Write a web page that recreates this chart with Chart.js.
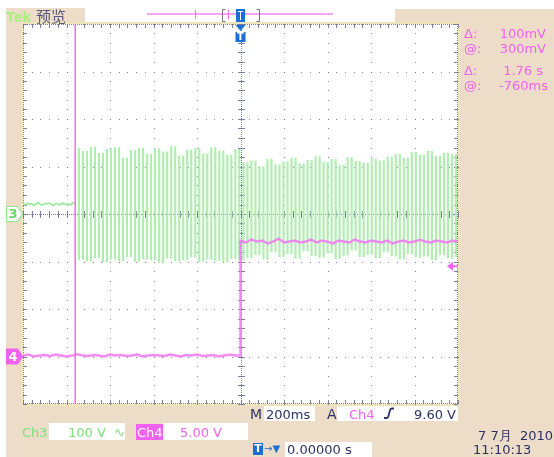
<!DOCTYPE html>
<html>
<head>
<meta charset="utf-8">
<script src="https://cdn.jsdelivr.net/npm/chart.js@4"></script>
<style>
  html, body { margin: 0; padding: 0; background: #fff; }
  body { width: 554px; height: 457px; position: relative; overflow: hidden;
         font-family: "DejaVu Sans", sans-serif; font-size: 13px; }
  .bg { position: absolute; background: #ecdcc8; }
  .box { position: absolute; background: #fff; }
  .t { position: absolute; white-space: pre; line-height: 13px; z-index: 3; }
  #c { position: absolute; left: 0; top: 0; z-index: 2; }
  .navy { color: #2c3262; }
  .pink { color: #f062f0; }
  .green { color: #7ce27c; }
</style>
</head>
<body>
<!-- beige frame round the graticule -->
<div class="bg" style="left:6px;top:8px;width:17px;height:449px"></div>
<div class="bg" style="left:6px;top:8px;width:79px;height:16px"></div>
<div class="bg" style="left:395px;top:9px;width:159px;height:448px"></div>
<div class="bg" style="left:6px;top:404px;width:548px;height:53px"></div>

<!-- white read-out boxes -->
<div class="box" style="left:264px;top:405px;width:51px;height:16px;z-index:1"></div>
<div class="box" style="left:337px;top:405px;width:121px;height:16px;z-index:1"></div>
<div class="box" style="left:49px;top:423px;width:76px;height:17px;z-index:1"></div>
<div class="box" style="left:136px;top:424px;width:27px;height:16px;z-index:1;background:#f062f0"></div>
<div class="box" style="left:163px;top:423px;width:85px;height:17px;z-index:1"></div>
<div class="box" style="left:285px;top:442px;width:87px;height:15px;z-index:1"></div>

<canvas id="c" width="554" height="457"></canvas>

<div class="t" style="left:6px;top:9px;font-size:15px;line-height:16px;font-weight:bold;color:#a6f07a;font-family:'Liberation Sans',sans-serif">Tek</div>
<div class="t" style="left:36px;top:8px;font-size:15px;line-height:16px;color:#56587c;font-family:'Noto Sans CJK SC',sans-serif">预览</div>

<div class="t pink" style="left:464px;top:27px">Δ:</div>
<div class="t pink" style="right:8px;top:27px">100mV</div>
<div class="t pink" style="left:464px;top:42px">@:</div>
<div class="t pink" style="right:8px;top:42px">300mV</div>
<div class="t pink" style="left:464px;top:64px">Δ:</div>
<div class="t pink" style="right:11px;top:64px">1.76 s</div>
<div class="t pink" style="left:464px;top:79px">@:</div>
<div class="t pink" style="right:6px;top:79px">-760ms</div>

<div class="t navy" style="left:250px;top:408px;font-size:14px">M</div>
<div class="t navy" style="left:266px;top:408px">200ms</div>
<div class="t navy" style="left:327px;top:408px;font-size:14px">A</div>
<div class="t pink" style="left:349px;top:408px">Ch4</div>
<svg style="position:absolute;left:383px;top:407px;z-index:3" width="12" height="13">
  <path d="M1 11 H4 Q5 11 5.5 9 L7 3 Q7.5 1.5 9 1.5 H11" fill="none" stroke="#2c3262" stroke-width="1.8"/>
</svg>
<div class="t navy" style="left:414px;top:408px">9.60 V</div>

<div class="t green" style="left:22px;top:426px">Ch3</div>
<div class="t green" style="left:68px;top:426px">100 V  ∿</div>
<div class="t" style="left:137px;top:426px;color:#fff">Ch4</div>
<div class="t pink" style="left:180px;top:426px">5.00 V</div>

<div class="t" style="left:253px;top:443px;width:10px;height:12px;background:#1a6fd6;color:#fff;font-size:11px;line-height:12px;text-align:center;font-weight:bold">T</div>
<div class="t" style="left:264px;top:443px;color:#1a6fd6;font-size:10px;line-height:12px">→▼</div>
<div class="t navy" style="left:287px;top:443px">0.00000 s</div>

<div class="t navy" style="left:478px;top:429px">7 7月  2010</div>
<div class="t navy" style="left:473px;top:443px">11:10:13</div>

<script>
// horizontal: 200 ms/div, 10 divisions ; vertical: 8 divisions
const secPerDiv = 0.2;
const ch3VoltsPerDiv = 100;
const ch4VoltsPerDiv = 5;
const ch3Position = 0;    // divisions
const ch4Position = -3;   // divisions
const triggerLevel = 9.60; // V on Ch4
const cursorTimes = [-0.76, 1.0];

// Ch3 before the burst, one sample every 10 ms from -1.00 s
const ch3PreStart = -1.0, ch3PreStep = 0.01;
const ch3Pre = [21, 19, 23, 20, 22, 18, 21, 24, 20, 19, 22, 21, 23, 20, 18, 22, 21, 19, 23, 20, 22, 21, 19, 24, 20];

// Ch3 burst: peaks, top / bottom of each swing
const burstStart = -0.752, burstHalfCycle = 0.01844;
const ch3Tops = [138, 132, 141, 128, 136, 140, 118, 134, 139, 126, 137, 131, 142, 122, 135, 138, 127, 140, 133, 124, 136,
                 108, 112, 100, 116, 104, 110, 118, 106, 113, 121, 109, 115, 103, 119, 111, 107, 116, 112, 120, 126, 118, 130, 124, 132, 122, 128, 125];
const ch3Bottoms = [-96, -99, -92, -101, -95, -98, -90, -100, -94, -97, -102, -93, -99, -96, -91, -100, -95, -98, -101, -94, -97,
                    -92, -86, -95, -80, -90, -84, -93, -78, -88, -91, -82, -94, -87, -76, -90, -85, -92, -80, -88, -95, -84, -91, -89, -96, -86, -93, -90];

// Ch4, one sample every 25 ms, before and after the trigger
const ch4Step = 0.025;
const ch4Pre = [0.1, 0.2, 0.0, 0.1, 0.15, 0.05, 0.2, 0.1, 0.0, 0.1, 0.25, 0.1, 0.05, 0.15, 0.1, 0.0, 0.2, 0.1, 0.15, 0.05, 0.1,
                0.2, 0.0, 0.1, 0.15, 0.1, 0.05, 0.2, 0.1, 0.0, 0.15, 0.1, 0.2, 0.05, 0.1, 0.15, 0.0, 0.1, 0.2, 0.1, 0.1];
const ch4Post = [12.2, 12.0, 12.3, 12.1, 12.2, 11.9, 12.1, 12.4, 12.0, 12.1, 12.2, 12.0, 12.1, 12.3, 12.0, 12.2, 12.1, 11.9, 12.2, 12.1, 12.0,
                 12.3, 12.1, 12.0, 12.2, 12.1, 12.0, 12.2, 11.9, 12.1, 12.2, 12.0, 12.1, 12.3, 12.1, 12.0, 12.2, 12.1, 12.0, 12.2, 12.1];

// volts -> screen divisions
const ch3PrePoints = ch3Pre.map((v, i) => ({ x: ch3PreStart + i * ch3PreStep, y: v / ch3VoltsPerDiv + ch3Position }));

// peaks in time order, then each swing between two peaks drawn as a vertical stroke (min/max of that swing)
const ch3Peaks = [];
ch3Tops.forEach((v, i) => {
    ch3Peaks.push({ t: burstStart + (2 * i) * burstHalfCycle, v: v });
    ch3Peaks.push({ t: burstStart + (2 * i + 1) * burstHalfCycle, v: ch3Bottoms[i] });
});
const ch3Strokes = [];
for (let k = 0; k + 1 < ch3Peaks.length; k++) {
    const a = ch3Peaks[k], b = ch3Peaks[k + 1];
    ch3Strokes.push({
        x: (a.t + b.t) / 2,
        y: [Math.min(a.v, b.v) / ch3VoltsPerDiv + ch3Position, Math.max(a.v, b.v) / ch3VoltsPerDiv + ch3Position]
    });
}

const ch4Points = [];
ch4Pre.forEach((v, i) => ch4Points.push({ x: -1.0 + i * ch4Step, y: v / ch4VoltsPerDiv + ch4Position }));
ch4Post.forEach((v, i) => ch4Points.push({ x: i * ch4Step, y: v / ch4VoltsPerDiv + ch4Position }));

const gratColor = 'rgba(112,112,146,0.9)';

function drawMarker(ctx, y, label, fill, stroke, textColor) {
    ctx.beginPath();
    ctx.moveTo(6.5, y - 7.5);
    ctx.lineTo(17.5, y - 7.5);
    ctx.lineTo(22.5, y);
    ctx.lineTo(17.5, y + 7.5);
    ctx.lineTo(6.5, y + 7.5);
    ctx.closePath();
    ctx.fillStyle = fill;
    ctx.fill();
    ctx.strokeStyle = stroke;
    ctx.lineWidth = 1.2;
    ctx.stroke();
    ctx.fillStyle = textColor;
    ctx.font = 'bold 13px "DejaVu Sans"';
    ctx.textAlign = 'center';
    ctx.textBaseline = 'middle';
    ctx.fillText(label, 13, y + 1);
}

const scopePlugin = {
    id: 'scope',
    beforeDraw(chart) {
        const { ctx, chartArea: a } = chart;
        ctx.save();
        ctx.fillStyle = '#fff';
        ctx.fillRect(a.left, a.top, a.right - a.left, a.bottom - a.top);
        ctx.strokeStyle = '#efe4b8';
        ctx.lineWidth = 2;
        ctx.strokeRect(a.left - 1, a.top - 1, a.right - a.left + 2, a.bottom - a.top + 2);

        // record bar at the top
        ctx.fillStyle = '#f6a4f6';
        ctx.fillRect(147, 13, 186, 2);
        ctx.fillStyle = '#f070f0';
        ctx.fillRect(195, 10, 1, 9);
        ctx.fillRect(228, 10, 1, 9);
        ctx.strokeStyle = '#707080';
        ctx.lineWidth = 1;
        ctx.beginPath();
        ctx.moveTo(225.5, 9.5); ctx.lineTo(222.5, 9.5); ctx.lineTo(222.5, 21.5); ctx.lineTo(225.5, 21.5);
        ctx.moveTo(256.5, 9.5); ctx.lineTo(259.5, 9.5); ctx.lineTo(259.5, 21.5); ctx.lineTo(256.5, 21.5);
        ctx.stroke();
        ctx.fillStyle = '#1a6fd6';
        ctx.fillRect(236, 9, 9, 13);
        ctx.fillStyle = '#fff';
        ctx.fillRect(238, 11, 5, 1);
        ctx.fillRect(240, 11, 1, 9);
        ctx.restore();
    },
    beforeDatasetsDraw(chart) {
        const { ctx, chartArea: a, scales: { x, y } } = chart;
        ctx.save();
        ctx.fillStyle = gratColor;
        const dot = (px, py) => ctx.fillRect(Math.round(px), Math.round(py), 1, 1);
        // dotted major lines, a dot every fifth of a division
        for (let i = 1; i < 10; i++) {
            if (i === 5) continue;
            const px = x.getPixelForValue(-1 + i * secPerDiv);
            for (let j = 0; j <= 40; j++) dot(px, y.getPixelForValue(-4 + j * 0.2));
        }
        for (let k = -3; k <= 3; k++) {
            if (k === 0) continue;
            const py = y.getPixelForValue(k);
            for (let j = 0; j <= 50; j++) dot(x.getPixelForValue(-1 + j * 0.04), py);
        }
        // centre axes with small ticks
        const cx = x.getPixelForValue(0), cy = y.getPixelForValue(0);
        for (let px = a.left; px <= a.right; px += 2) dot(px, cy);
        for (let py = a.top; py <= a.bottom; py += 2) dot(cx, py);
        for (let j = 0; j <= 50; j++) {
            const px = Math.round(x.getPixelForValue(-1 + j * 0.04));
            ctx.fillRect(px, Math.round(cy) - 3, 1, 7);
            ctx.fillRect(px, a.top, 1, 4);
            ctx.fillRect(px, a.bottom - 4, 1, 4);
        }
        for (let j = 0; j <= 40; j++) {
            const py = Math.round(y.getPixelForValue(-4 + j * 0.2));
            ctx.fillRect(Math.round(cx) - 3, py, 7, 1);
            ctx.fillRect(a.left, py, 4, 1);
            ctx.fillRect(a.right - 4, py, 4, 1);
        }
        for (let px = a.left; px <= a.right; px += 2) { dot(px, a.top); dot(px, a.bottom - 1); }
        for (let py = a.top; py <= a.bottom; py += 2) { dot(a.left, py); dot(a.right - 1, py); }
        ctx.restore();
    },
    afterDatasetsDraw(chart) {
        const { ctx, chartArea: a, scales: { x, y } } = chart;
        ctx.save();
        // time cursor
        ctx.strokeStyle = '#f06cf0';
        ctx.lineWidth = 1.5;
        cursorTimes.forEach(t => {
            const px = x.getPixelForValue(t);
            if (px > a.right - 2) return;
            ctx.beginPath();
            ctx.moveTo(px, a.top);
            ctx.lineTo(px, a.bottom);
            ctx.stroke();
        });
        // channel markers
        drawMarker(ctx, y.getPixelForValue(ch3Position), '3', '#fff', '#8fe88f', '#66d866');
        drawMarker(ctx, y.getPixelForValue(ch4Position), '4', '#f062f0', '#f062f0', '#fff');
        // trigger level arrow
        const ty = y.getPixelForValue(triggerLevel / ch4VoltsPerDiv + ch4Position) + 1;
        ctx.fillStyle = '#f062f0';
        ctx.beginPath();
        ctx.moveTo(a.right - 11, ty);
        ctx.lineTo(a.right - 5, ty - 4.5);
        ctx.lineTo(a.right - 5, ty + 4.5);
        ctx.closePath();
        ctx.fill();
        ctx.fillRect(a.right - 6, ty - 1, 6, 2);
        // trigger position marker
        const tx = x.getPixelForValue(0);
        ctx.fillStyle = '#1a6fd6';
        ctx.beginPath();
        ctx.moveTo(tx - 5, a.top + 1);
        ctx.lineTo(tx + 5, a.top + 1);
        ctx.lineTo(tx, a.top + 7);
        ctx.closePath();
        ctx.fill();
        ctx.fillRect(tx - 5, a.top + 8, 10, 10);
        ctx.fillStyle = '#fff';
        ctx.font = 'bold 10px "DejaVu Sans"';
        ctx.textAlign = 'center';
        ctx.textBaseline = 'middle';
        ctx.fillText('T', tx, a.top + 13.5);
        ctx.restore();
    }
};

new Chart(document.getElementById('c').getContext('2d'), {
    type: 'scatter',
    data: {
        datasets: [{
            label: 'Ch4',
            data: ch4Points,
            showLine: true,
            borderColor: 'rgba(242,118,242,0.85)',
            borderWidth: 2.4,
            pointRadius: 0,
            tension: 0
        }, {
            type: 'bar',
            label: 'Ch3',
            data: ch3Strokes,
            backgroundColor: 'rgba(170,238,170,0.95)',
            borderWidth: 0,
            barThickness: 1.5
        }, {
            label: 'Ch3 pre',
            data: ch3PrePoints,
            showLine: true,
            borderColor: 'rgba(150,232,150,0.95)',
            borderWidth: 1.6,
            pointRadius: 0,
            tension: 0
        }]
    },
    options: {
        responsive: false,
        animation: false,
        devicePixelRatio: 1,
        layout: { padding: { left: 23, top: 24, right: 96, bottom: 53 } },
        plugins: { legend: { display: false }, tooltip: { enabled: false } },
        scales: {
            x: {
                type: 'linear', min: -1, max: 1, offset: false,
                ticks: { display: false }, grid: { display: false }, border: { display: false },
                afterFit: s => { s.height = 0; }
            },
            y: {
                type: 'linear', min: -4, max: 4,
                ticks: { display: false }, grid: { display: false }, border: { display: false },
                afterFit: s => { s.width = 0; }
            }
        }
    },
    plugins: [scopePlugin]
});
</script>
</body>
</html>
